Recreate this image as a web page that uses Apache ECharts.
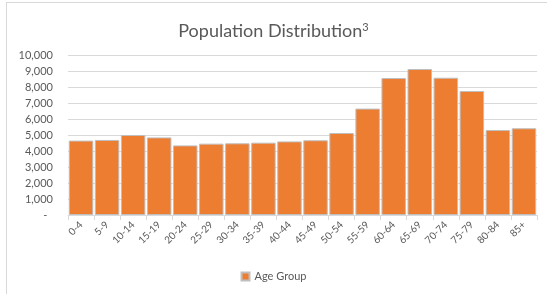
<!DOCTYPE html>
<html>
<head>
<meta charset="utf-8">
<script src="https://cdn.jsdelivr.net/npm/echarts@6/dist/echarts.min.js"></script>
<style>
  html, body { margin: 0; padding: 0; background: #fff; }
  #frame { position: absolute; left: 6px; top: 2px; width: 545px; height: 296px; border: 1px solid #D9D9D9; box-sizing: border-box; }
  #chart { position: absolute; left: 0; top: 0; width: 547px; height: 294px; }
</style>
</head>
<body>
<div id="frame"></div>
<div id="chart"></div>
<script>
// age groups along the x axis
var ageGroups = ['0-4', '5-9', '10-14', '15-19', '20-24', '25-29', '30-34', '35-39', '40-44',
    '45-49', '50-54', '55-59', '60-64', '65-69', '70-74', '75-79', '80-84', '85+'];

// population per age group
var population = [4650, 4690, 5000, 4850, 4350, 4460, 4480, 4520, 4600,
    4670, 5125, 6650, 8560, 9125, 8580, 7750, 5310, 5420];

var seriesName = 'Age Group';
var fontFam = 'Lato, "Liberation Sans", sans-serif';

var myChart = echarts.init(document.getElementById('chart'));

var option = {
    animation: false,
    title: {
        text: 'Population Distribution{sup|3}',
        left: 'center',
        top: 17,
        textStyle: {
            fontFamily: fontFam,
            fontSize: 18,
            fontWeight: 'normal',
            color: '#595959',
            rich: {
                sup: {
                    fontFamily: fontFam,
                    fontSize: 11,
                    color: '#595959',
                    verticalAlign: 'top',
                    padding: [0, 0, 8, 0]
                }
            }
        }
    },
    grid: {
        left: 68,
        right: 10,
        top: 55,
        bottom: 79
    },
    legend: {
        bottom: 7,
        left: 'center',
        itemWidth: 8,
        itemHeight: 8,
        icon: 'rect',
        itemGap: 4,
        textStyle: {
            fontFamily: fontFam,
            fontSize: 11,
            color: '#595959'
        },
        data: [seriesName]
    },
    xAxis: {
        type: 'category',
        data: ageGroups,
        axisLine: { lineStyle: { color: '#D9D9D9' } },
        axisTick: { show: true, alignWithLabel: false, length: 5, lineStyle: { color: '#D9D9D9' } },
        axisLabel: {
            rotate: 45,
            interval: 0,
            fontFamily: fontFam,
            fontSize: 10,
            color: '#595959',
            margin: 8
        }
    },
    yAxis: {
        type: 'value',
        min: 0,
        max: 10000,
        interval: 1000,
        axisLine: { show: false },
        axisTick: { show: false },
        splitLine: { lineStyle: { color: '#D9D9D9' } },
        axisLabel: {
            fontFamily: fontFam,
            fontSize: 11,
            color: '#595959',
            margin: 15,
            formatter: function(v) {
                if (v === 0) {
                    return '-  ';
                }
                return v.toLocaleString('en-US');
            }
        }
    },
    series: [{
        name: seriesName,
        type: 'bar',
        data: population,
        barCategoryGap: '6%',
        itemStyle: {
            color: '#ED7D31',
            borderColor: '#BFBFBF',
            borderWidth: 1
        }
    }]
};
myChart.setOption(option);
</script>
</body>
</html>
